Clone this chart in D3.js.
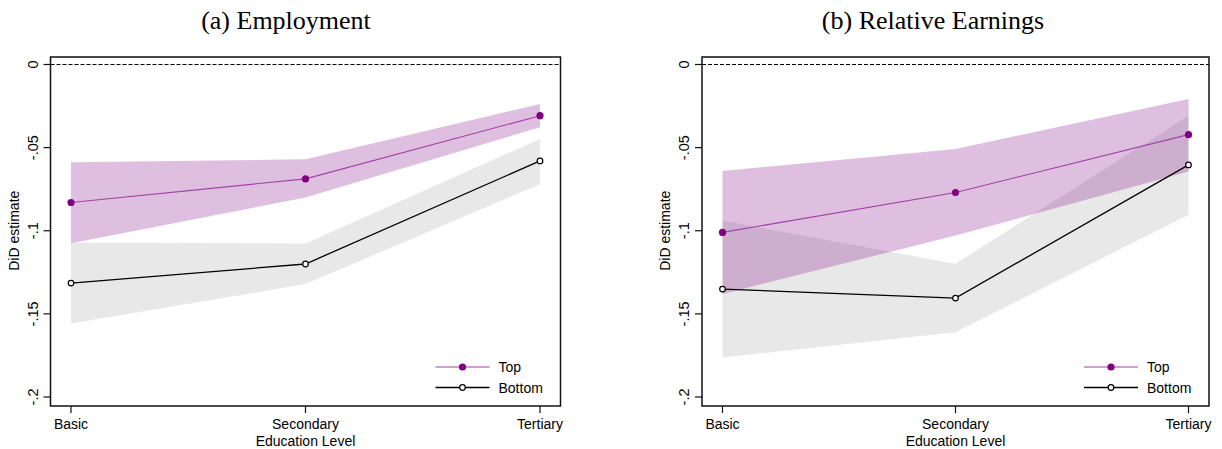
<!DOCTYPE html>
<html>
<head>
<meta charset="utf-8">
<script src="https://cdn.jsdelivr.net/npm/d3@7"></script>
<style>
    body { margin: 0; background: #fff; }
    svg text { font-family: "Liberation Sans", Arial, sans-serif; fill: #000; }
    .title { font-family: "Liberation Serif", "Times New Roman", serif; }
</style>
</head>
<body>
<svg width="1222" height="449"></svg>
<script>
/****** DATA ******/
var levels = ["Basic", "Secondary", "Tertiary"];
var yTicks = [0, -0.05, -0.1, -0.15, -0.2];
var yTickLabels = ["0", "-.05", "-.1", "-.15", "-.2"];

// (a) Employment
var empTop = [-0.083, -0.0688, -0.0308];
var empTopLo = [-0.1075, -0.080, -0.0377];
var empTopHi = [-0.0588, -0.057, -0.0237];
var empBottom = [-0.1315, -0.120, -0.058];
var empBottomLo = [-0.1558, -0.1321, -0.072];
var empBottomHi = [-0.1071, -0.1077, -0.0448];

// (b) Relative Earnings
var earnTop = [-0.101, -0.077, -0.0422];
var earnTopLo = [-0.138, -0.1029, -0.0644];
var earnTopHi = [-0.064, -0.0508, -0.0207];
var earnBottom = [-0.1351, -0.1405, -0.0604];
var earnBottomLo = [-0.1762, -0.161, -0.0904];
var earnBottomHi = [-0.0939, -0.1199, -0.0308];

/****** LAYOUT ******/
var svg = d3.select("svg");
var frameTop = 57, frameBottom = 406;

function toRows(mid, lo, hi) {
    return levels.map(function(l, i) { return {level: l, v: mid[i], lo: lo[i], hi: hi[i]}; });
}

drawPanel({
    title: "(a) Employment", titleX: 286,
    left: 50.5, right: 560.5,
    top: toRows(empTop, empTopLo, empTopHi),
    bottom: toRows(empBottom, empBottomLo, empBottomHi)
});
drawPanel({
    title: "(b) Relative Earnings", titleX: 933,
    left: 702, right: 1209,
    top: toRows(earnTop, earnTopLo, earnTopHi),
    bottom: toRows(earnBottom, earnBottomLo, earnBottomHi)
});

function drawPanel(p) {
    var g = svg.append("g");
    var x = d3.scalePoint().domain(levels).range([p.left + 20.5, p.right - 20.5]);
    var y = d3.scaleLinear().domain([-0.2, 0]).range([397, 64.5]);

    // title
    g.append("text")
        .attr("class", "title")
        .attr("x", p.titleX).attr("y", 29)
        .attr("text-anchor", "middle")
        .style("font-size", "26px")
        .text(p.title);

    // confidence bands
    var area = d3.area()
        .x(function(d) { return x(d.level); })
        .y0(function(d) { return y(d.lo); })
        .y1(function(d) { return y(d.hi); });

    g.append("path").datum(p.bottom)
        .attr("d", area)
        .attr("fill", "#000").attr("fill-opacity", 0.09);
    g.append("path").datum(p.top)
        .attr("d", area)
        .attr("fill", "#800080").attr("fill-opacity", 0.25);

    // zero reference line
    g.append("line")
        .attr("x1", p.left).attr("x2", p.right)
        .attr("y1", y(0)).attr("y2", y(0))
        .attr("stroke", "#000").attr("stroke-width", 1.1)
        .attr("stroke-dasharray", "4,2");

    // lines
    var line = d3.line()
        .x(function(d) { return x(d.level); })
        .y(function(d) { return y(d.v); });

    g.append("path").datum(p.top)
        .attr("d", line).attr("fill", "none")
        .attr("stroke", "#a040a8").attr("stroke-width", 1.1);
    g.append("path").datum(p.bottom)
        .attr("d", line).attr("fill", "none")
        .attr("stroke", "#000").attr("stroke-width", 1.3);

    g.selectAll("circle.top").data(p.top).enter()
        .append("circle").attr("class", "top")
        .attr("cx", function(d) { return x(d.level); })
        .attr("cy", function(d) { return y(d.v); })
        .attr("r", 3.6)
        .attr("fill", "#800080");
    g.selectAll("circle.bottom").data(p.bottom).enter()
        .append("circle").attr("class", "bottom")
        .attr("cx", function(d) { return x(d.level); })
        .attr("cy", function(d) { return y(d.v); })
        .attr("r", 2.8)
        .attr("fill", "#fff").attr("stroke", "#000").attr("stroke-width", 1.2);

    // frame
    g.append("rect")
        .attr("x", p.left).attr("y", frameTop)
        .attr("width", p.right - p.left).attr("height", frameBottom - frameTop)
        .attr("fill", "none").attr("stroke", "#111").attr("stroke-width", 1.5);

    // y axis
    var yAxis = g.append("g");
    yTicks.forEach(function(t, i) {
        yAxis.append("line")
            .attr("x1", p.left - 7).attr("x2", p.left)
            .attr("y1", y(t)).attr("y2", y(t))
            .attr("stroke", "#111").attr("stroke-width", 1.2);
        yAxis.append("text")
            .attr("transform", "translate(" + (p.left - 13) + "," + y(t) + ")rotate(-90)")
            .attr("text-anchor", "middle")
            .style("font-size", "14.5px")
            .text(yTickLabels[i]);
    });
    g.append("text")
        .attr("transform", "translate(" + (p.left - 32) + "," + y(-0.1) + ")rotate(-90)")
        .attr("text-anchor", "middle")
        .style("font-size", "14px")
        .text("DiD estimate");

    // x axis
    levels.forEach(function(l) {
        g.append("line")
            .attr("x1", x(l)).attr("x2", x(l))
            .attr("y1", frameBottom).attr("y2", frameBottom + 7)
            .attr("stroke", "#111").attr("stroke-width", 1.2);
        g.append("text")
            .attr("x", x(l)).attr("y", 429)
            .attr("text-anchor", "middle")
            .style("font-size", "14px")
            .text(l);
    });
    g.append("text")
        .attr("x", x("Secondary")).attr("y", 445.5)
        .attr("text-anchor", "middle")
        .style("font-size", "14px")
        .text("Education Level");

    // legend
    var lx = p.right - 125, lw = 54;
    var legend = [
        {label: "Top", y: 367, stroke: "#a040a8", sw: 1.1, fill: "#800080", ms: "none", r: 3.6},
        {label: "Bottom", y: 387.5, stroke: "#000", sw: 1.3, fill: "#fff", ms: "#000", r: 2.8}
    ];
    legend.forEach(function(d) {
        g.append("line")
            .attr("x1", lx).attr("x2", lx + lw)
            .attr("y1", d.y).attr("y2", d.y)
            .attr("stroke", d.stroke).attr("stroke-width", d.sw);
        g.append("circle")
            .attr("cx", lx + lw / 2).attr("cy", d.y).attr("r", d.r)
            .attr("fill", d.fill).attr("stroke", d.ms).attr("stroke-width", 1.2);
        g.append("text")
            .attr("x", lx + lw + 9).attr("y", d.y + 5)
            .style("font-size", "14px")
            .text(d.label);
    });
}
</script>
</body>
</html>
